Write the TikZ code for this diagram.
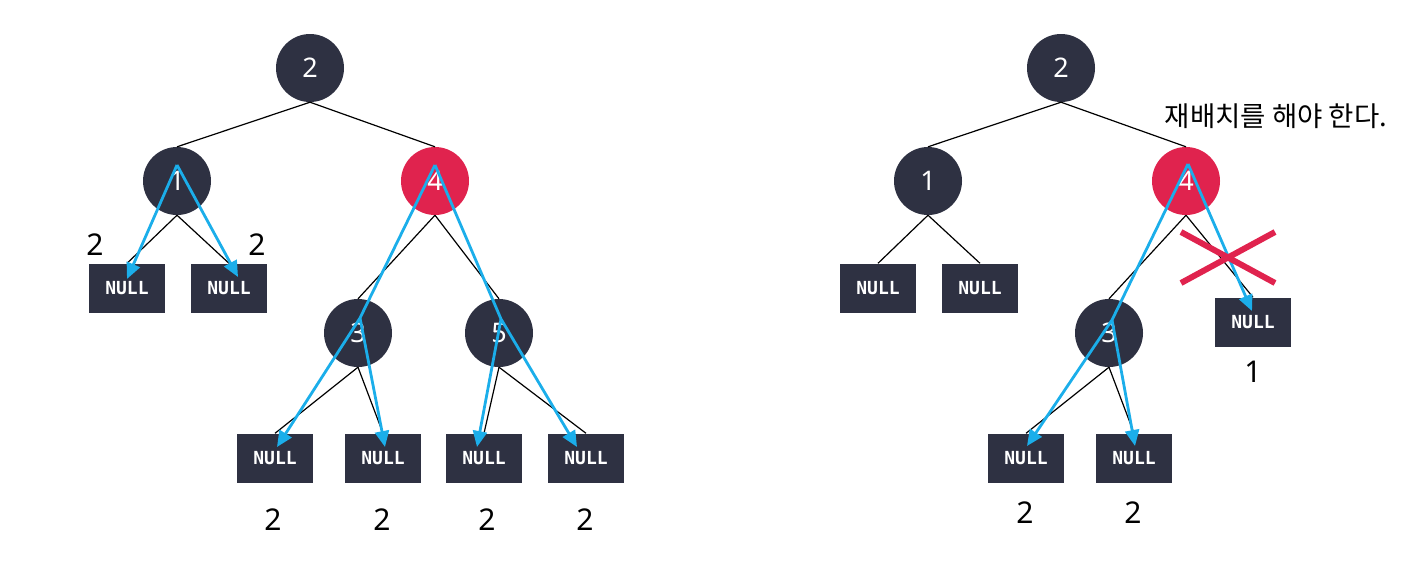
\documentclass[tikz,border=0pt]{standalone}
\usepackage{fontspec}
\setmainfont{Noto Sans}
\newfontfamily\krfont{Noto Sans CJK KR}
\newfontfamily\monofont{DejaVu Sans Mono}
\usetikzlibrary{arrows.meta}
\definecolor{nodedark}{HTML}{2E3142}
\definecolor{nodered}{HTML}{E0234E}
\definecolor{tracecol}{HTML}{1BAEEA}
\begin{document}
\begin{tikzpicture}[x=1pt,y=-1pt,
 bnode/.style={circle,fill=nodedark,minimum size=68pt,inner sep=0pt,text=white,font=\fontsize{27}{30}\selectfont},
 rootnode/.style={bnode,font=\bfseries\fontsize{27}{30}\selectfont},
 rnode/.style={bnode,fill=nodered},
 nullbox/.style={rectangle,fill=nodedark,minimum width=76pt,minimum height=49pt,inner sep=0pt,text=white,font=\monofont\bfseries\fontsize{18}{20}\selectfont},
 edge/.style={draw=black,line width=1.2pt},
 trace/.style={draw=tracecol,line width=2.8pt,line join=round},
 tracearrow/.style={trace,-{Triangle[length=16pt,width=14pt]}},
 count/.style={font=\fontsize{30}{34}\selectfont,inner sep=0pt},
 cross/.style={draw=nodered,line width=6pt}
]
\useasboundingbox (0,0) rectangle (1410,571);

% ---------- left tree ----------
\node[rootnode] (L2) at (310,68) {2};
\node[bnode] (L1) at (177,181) {1};
\node[rnode] (L4) at (435,181) {4};
\node[nullbox] (L1a) at (127,288) {NULL};
\node[nullbox] (L1b) at (229,288) {NULL};
\node[bnode] (L3) at (358,333) {3};
\node[bnode] (L5) at (499,333) {5};
\node[nullbox] (L3a) at (275,458) {NULL};
\node[nullbox] (L3b) at (383,458) {NULL};
\node[nullbox] (L5a) at (484,458) {NULL};
\node[nullbox] (L5b) at (586,458) {NULL};

\draw[edge] (L2.south) -- (L1.north);
\draw[edge] (L2.south) -- (L4.north);
\draw[edge] (L1.south) -- (L1a.north);
\draw[edge] (L1.south) -- (L1b.north);
\draw[edge] (L4.south) -- (L3.north);
\draw[edge] (L4.south) -- (L5.north);
\draw[edge] (L3.south) -- (L3a.north);
\draw[edge] (L3.south) -- (L3b.north);
\draw[edge] (L5.south) -- (L5a.north);
\draw[edge] (L5.south) -- (L5b.north);

\coordinate (pL1) at (177,165);
\coordinate (pL4) at (435,165);
\coordinate (pL3) at (360,318);
\coordinate (pL5) at (501,319);
\coordinate (tL1a) at (127,279);
\coordinate (tL1b) at (238,277);
\coordinate (tL3a) at (277,447);
\coordinate (tL3b) at (385,447);
\coordinate (tL5a) at (477,447);
\coordinate (tL5b) at (577,447);

\draw[tracearrow] (pL1) -- (tL1a);
\draw[tracearrow] (pL1) -- (tL1b);
\draw[tracearrow] (pL4) -- (pL3) -- (tL3a);
\draw[tracearrow] (pL3) -- (tL3b);
\draw[tracearrow] (pL4) -- (pL5) -- (tL5b);
\draw[tracearrow] (pL5) -- (tL5a);

\node[count] (cL1a) at (95,245) {2};
\node[count] (cL1b) at (257,245) {2};
\node[count] (cL3a) at (273,520) {2};
\node[count] (cL3b) at (382,520) {2};
\node[count] (cL5a) at (487,520) {2};
\node[count] (cL5b) at (585,520) {2};

% ---------- right tree ----------
\node[rootnode] (R2) at (1061,68) {2};
\node[bnode] (R1) at (928,181) {1};
\node[rnode] (R4) at (1186,181) {4};
\node[nullbox] (R1a) at (878,288) {NULL};
\node[nullbox] (R1b) at (980,288) {NULL};
\node[bnode] (R3) at (1109,333) {3};
\node[nullbox] (R4b) at (1253,322) {NULL};
\node[nullbox] (R3a) at (1026,458) {NULL};
\node[nullbox] (R3b) at (1134,458) {NULL};

\draw[edge] (R2.south) -- (R1.north);
\draw[edge] (R2.south) -- (R4.north);
\draw[edge] (R1.south) -- (R1a.north);
\draw[edge] (R1.south) -- (R1b.north);
\draw[edge] (R4.south) -- (R3.north);
\draw[edge] (R4.south) -- (R4b.north);
\draw[edge] (R3.south) -- (R3a.north);
\draw[edge] (R3.south) -- (R3b.north);

\coordinate (pR4) at (1188,164);
\coordinate (pR3) at (1112,320);
\coordinate (tR3a) at (1027,446);
\coordinate (tR3b) at (1135,446);
\coordinate (tR4b) at (1252,311);

\draw[tracearrow] (pR4) -- (pR3) -- (tR3a);
\draw[tracearrow] (pR3) -- (tR3b);
\draw[tracearrow] (pR4) -- (tR4b);

\coordinate (x1) at (1181,232);
\coordinate (x2) at (1275,283);
\coordinate (x3) at (1181,283);
\coordinate (x4) at (1275,232);
\draw[cross] (x1) -- (x2);
\draw[cross] (x3) -- (x4);

\node[count] (cR3a) at (1025,513) {2};
\node[count] (cR3b) at (1133,513) {2};
\node[count] (cR4b) at (1253,372) {1};

\node[font=\krfont\fontsize{27.5}{30}\selectfont,inner sep=0pt] (msg) at (1276,116) {재배치를 해야 한다.};
\end{tikzpicture}
\end{document}
